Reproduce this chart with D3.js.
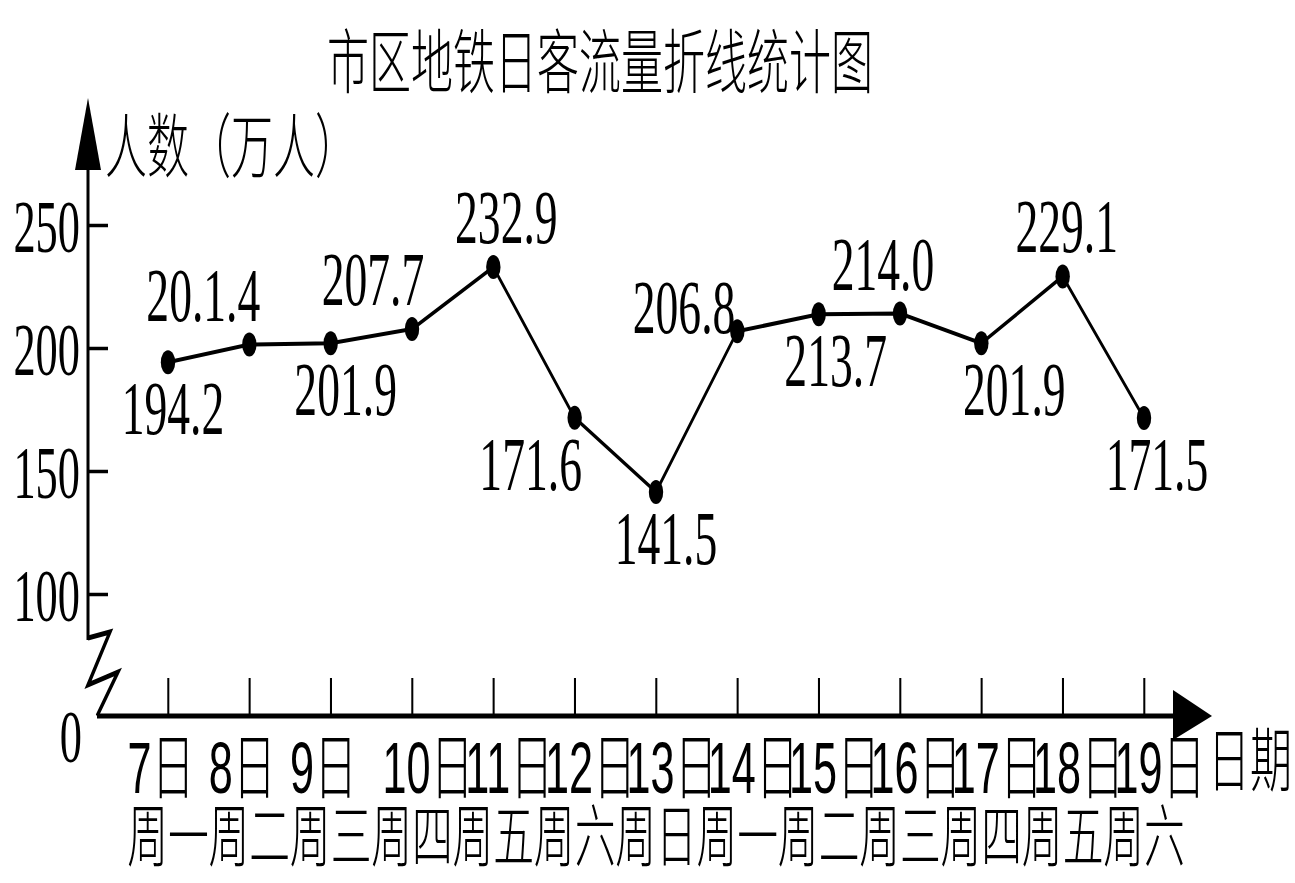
<!DOCTYPE html>
<html>
<head>
<meta charset="utf-8">
<script src="https://cdn.jsdelivr.net/npm/d3@7"></script>
<style>
  body { margin: 0; background: #fff; }
  svg { display: block; }
</style>
</head>
<body>
<div id="chartdiv"></div>
<script>
/* --- data --- */
let days = ["7", "8", "9", "10", "11", "12", "13", "14", "15", "16", "17", "18", "19"]
let weekdays = ["周一", "周二", "周三", "周四", "周五", "周六", "周日", "周一", "周二", "周三", "周四", "周五", "周六"]
let riders = [194.2, 201.4, 201.9, 207.7, 232.9, 171.6, 141.5, 206.8, 213.7, 214.0, 201.9, 229.1, 171.5]
// printed exactly as on the chart (the "20.1.4" is the original's typo)
let riderLabels = ["194.2", "20.1.4", "201.9", "207.7", "232.9", "171.6", "141.5", "206.8", "213.7", "214.0", "201.9", "229.1", "171.5"]
let yTicks = [100, 150, 200, 250]

/* --- layout --- */
let width = 1295
let height = 883
// the original picture is squeezed sideways, so everything is drawn in a group scaled on x
let SX = 0.6
let X = px => px / SX
// where each value label sits next to its point
let labelSide = ["below", "above", "below", "above", "above", "below", "below", "left", "below", "above", "below", "above", "below"]
let labelDx = [5, -46, 15, -39, 13, -44, 10, -2, 17, -17, 33, 4, 13]

let cjk = "'Noto Sans CJK SC', sans-serif"
let serif = "'Liberation Serif', 'Times New Roman', serif"

function drawChart(){
   let svg = d3.select('#chartdiv')
      .append('svg')
      .attr("width", width)
      .attr("height", height)
   svg.append("rect").attr("width", width).attr("height", height).attr("fill", "#fff")

   let g = svg.append("g").attr("transform", `scale(${SX},1)`)

   let axisX = 88      // y axis position
   let axisY = 716     // x axis position

   let xscale = d3.scalePoint()
      .domain(days)
      .range([X(168), X(1144)])
   let yscale = d3.scaleLinear()
      .domain([100, 250])
      .range([594, 225])

   // title
   g.append("text")
      .attr("x", X(600)).attr("y", 88)
      .attr("text-anchor", "middle")
      .style("font-family", cjk).style("font-size", "70px").style("font-weight", 300)
      .text("市区地铁日客流量折线统计图")

   // y axis title
   g.append("text")
      .attr("x", X(105)).attr("y", 172)
      .style("font-family", cjk).style("font-size", "70px").style("font-weight", 300)
      .text("人数（万人）")

   // y axis line + arrow + break
   g.append("line")
      .attr("x1", X(axisX)).attr("x2", X(axisX))
      .attr("y1", 640).attr("y2", 160)
      .attr("stroke", "#000").attr("stroke-width", 5)
   g.append("path")
      .attr("d", `M${X(axisX)},98 L${X(101)},170 L${X(75)},170 Z`)
      .attr("fill", "#000")
   g.append("path")
      .attr("d", `M${X(axisX)},638 L${X(110)},632 L${X(88)},685 L${X(118)},672 L${X(97)},${axisY}`)
      .attr("fill", "none").attr("stroke", "#000").attr("stroke-width", 5)

   let y_axis = d3.axisLeft(yscale)
      .tickValues(yTicks)
      .tickSize(-X(20))
      .tickPadding(X(8))
      .tickFormat(d3.format("d"))
   let yg = g.append("g")
      .attr("transform", `translate(${X(axisX)},0)`)
      .call(y_axis)
   yg.select(".domain").remove()
   yg.selectAll(".tick line").attr("stroke", "#000").attr("stroke-width", 3.5)
   yg.selectAll(".tick text")
      .attr("dy", "0.36em")
      .style("font-family", serif).style("font-size", "74px").attr("fill", "#000")

   g.append("text")
      .attr("x", X(82)).attr("y", 762)
      .attr("text-anchor", "end")
      .style("font-family", serif).style("font-size", "74px")
      .text("0")

   // x axis line + arrow
   g.append("line")
      .attr("x1", X(97)).attr("x2", X(1185))
      .attr("y1", axisY).attr("y2", axisY)
      .attr("stroke", "#000").attr("stroke-width", 5)
   g.append("path")
      .attr("d", `M${X(1173)},690 L${X(1212)},${axisY} L${X(1173)},740 Z`)
      .attr("fill", "#000")

   let x_axis = d3.axisBottom(xscale)
      .tickSize(-38)
      .tickFormat("")
   let xg = g.append("g")
      .attr("transform", `translate(0,${axisY})`)
      .call(x_axis)
   xg.select(".domain").remove()
   xg.selectAll(".tick line").attr("stroke", "#000").attr("stroke-width", 3.4)

   // date labels, two rows
   g.selectAll(".day")
      .data(days)
      .enter().append("text")
      .attr("class", "day")
      .attr("x", d => xscale(d) + X(d.length > 1 ? 16 : -7))
      .attr("y", 793)
      .attr("text-anchor", "middle")
      .style("font-family", "'Liberation Sans', 'Noto Sans CJK SC', sans-serif")
      .style("font-size", "72px").style("font-weight", 300)
      .text(d => d + "日")
   g.selectAll(".wk")
      .data(weekdays)
      .enter().append("text")
      .attr("class", "wk")
      .attr("x", (d, i) => xscale(days[i]))
      .attr("y", 861)
      .attr("text-anchor", "middle")
      .style("font-family", cjk)
      .style("font-size", "68px").style("font-weight", 300)
      .text(d => d)

   g.append("text")
      .attr("x", X(1208)).attr("y", 786)
      .style("font-family", cjk).style("font-size", "70px").style("font-weight", 300)
      .text("日期")

   // the line
   let line = d3.line()
      .x((d, i) => xscale(days[i]))
      .y(d => yscale(d))
   g.append("path")
      .datum(riders)
      .attr("d", line)
      .attr("fill", "none")
      .attr("stroke", "#000")
      .attr("stroke-width", 4)
      .attr("stroke-linejoin", "round")

   g.selectAll(".dot")
      .data(riders)
      .enter().append("circle")
      .attr("class", "dot")
      .attr("cx", (d, i) => xscale(days[i]))
      .attr("cy", d => yscale(d))
      .attr("r", 12)
      .attr("fill", "#000")

   // value labels
   riders.forEach((v, i) => {
      let side = labelSide[i]
      let px = xscale(days[i]) + X(labelDx[i])
      let py = yscale(v)
      let t = g.append("text")
         .style("font-family", serif)
         .style("font-size", "76px")
         .text(riderLabels[i])
      if (side === "above") {
         t.attr("x", px).attr("y", py - 24).attr("text-anchor", "middle")
      } else if (side === "below") {
         t.attr("x", px).attr("y", py + 72).attr("text-anchor", "middle")
      } else {
         t.attr("x", px).attr("y", py + 2).attr("text-anchor", "end")
      }
   })
}
drawChart()
</script>
</body>
</html>
